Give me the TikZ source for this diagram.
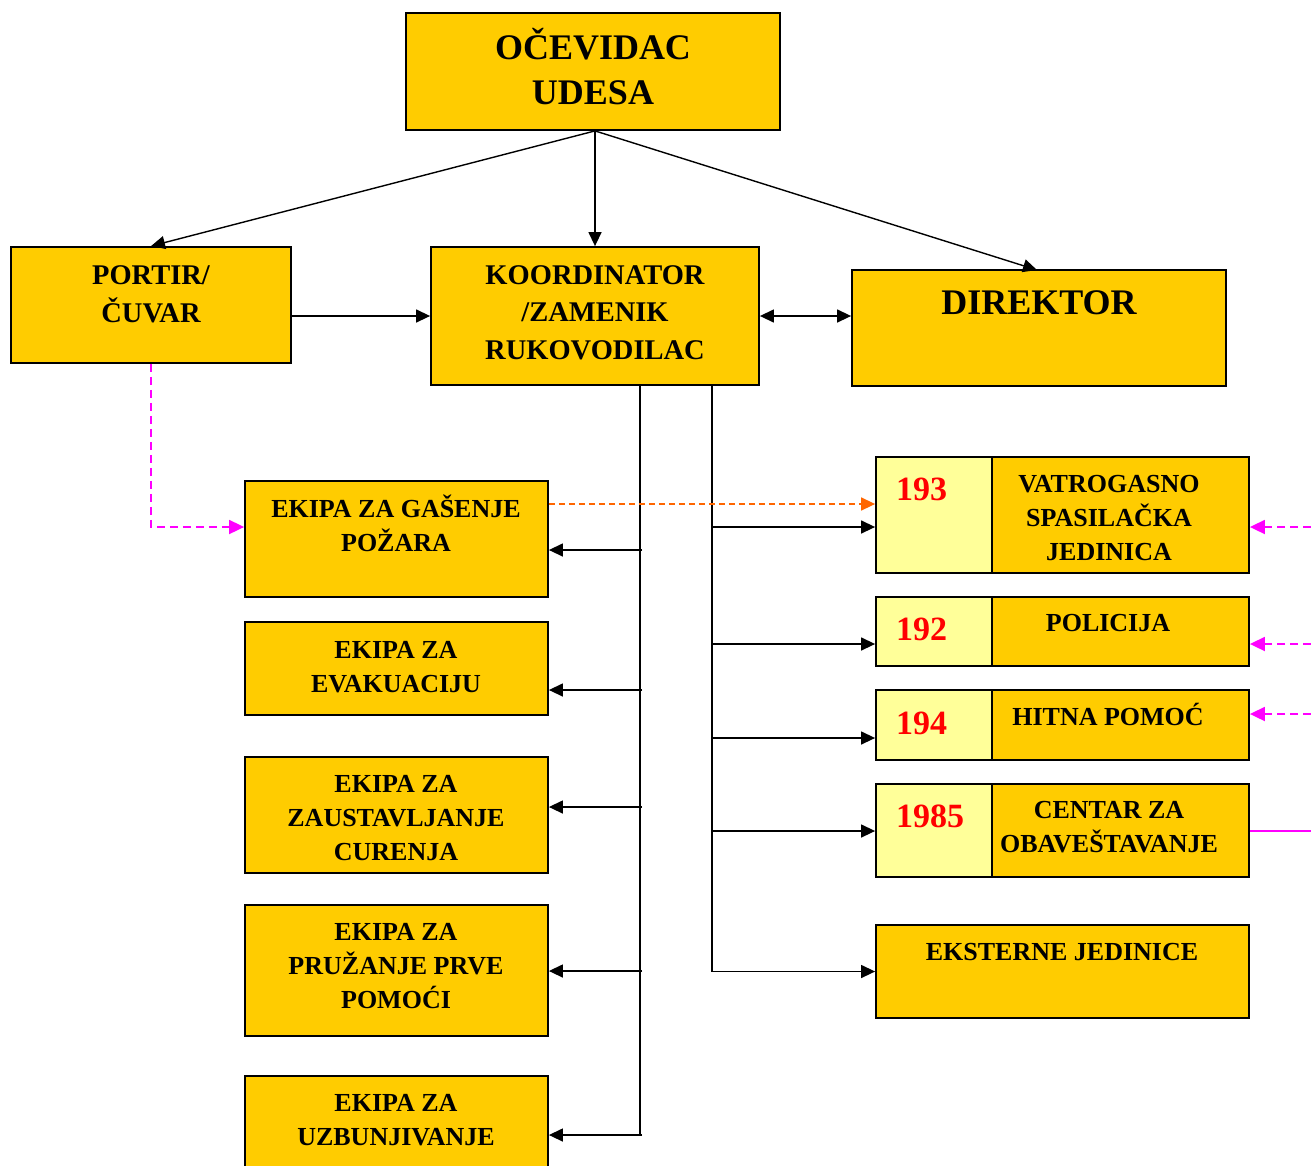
\documentclass[tikz,border=0pt]{standalone}
\usepackage{fontspec}
\setmainfont{Liberation Serif}
\usetikzlibrary{arrows.meta,fit}

\definecolor{boxgold}{HTML}{FFCC00}
\definecolor{cellpale}{HTML}{FFFF99}
\definecolor{linemag}{HTML}{FF00FF}
\definecolor{lineorange}{HTML}{FF6600}
\definecolor{numred}{HTML}{FF0000}

\begin{document}
\begin{tikzpicture}[x=1pt,y=-1pt,
  box/.style={draw=black, line width=1.8pt, fill=boxgold, inner sep=0pt},
  cell/.style={box, fill=cellpale},
  % multi-line labels: the base anchor sits on the last line's baseline
  lbl/.style={font=\bfseries\fontsize{26}{34}\selectfont, align=center, inner sep=0pt, anchor=base},
  lbltop/.style={lbl, font=\bfseries\fontsize{28.5}{37.5}\selectfont},
  lblbig/.style={lbl, font=\bfseries\fontsize{36}{45}\selectfont},
  num/.style={font=\bfseries\fontsize{34}{40}\selectfont, text=numred, inner sep=0pt, anchor=base west},
  wire/.style={draw=black, line width=1.4pt},
  conn/.style={wire, -{Triangle[length=14pt,width=13pt]}},
  conn2/.style={wire, {Triangle[length=14pt,width=13pt]}-{Triangle[length=14pt,width=13pt]}},
  magdash/.style={draw=linemag, line width=1.8pt, dash pattern=on 8pt off 5pt,
    -{Triangle[length=15pt,width=14pt]}},
  magsolid/.style={draw=linemag, line width=1.6pt},
  orgdash/.style={draw=lineorange, line width=1.5pt, dash pattern=on 6pt off 4pt,
    -{Triangle[length=14pt,width=13pt]}}
]
\useasboundingbox (0,0) rectangle (1311,1165);

% ---- top level
\node[box, fit={(406,13)(780,130)}] (eye) {};
\node[lblbig] (eyeT) at (593,104) {OČEVIDAC\\UDESA};

\node[box, fit={(11,247)(291,363)}] (portir) {};
\node[lbltop] (portirT) at (151,322) {PORTIR/\\ČUVAR};

\node[box, fit={(431,247)(759,385)}] (koord) {};
\node[lbltop] (koordT) at (595,359) {KOORDINATOR\\/ZAMENIK\\RUKOVODILAC};

\node[box, fit={(852,270)(1226,386)}] (dir) {};
\node[lblbig] (dirT) at (1039,314) {DIREKTOR};

% ---- internal teams
\node[box, fit={(245,481)(548,597)}] (gas) {};
\node[lbl] (gasT) at (396,551) {EKIPA ZA GAŠENJE\\POŽARA};

\node[box, fit={(245,622)(548,715)}] (evak) {};
\node[lbl] (evakT) at (396,692) {EKIPA ZA\\EVAKUACIJU};

\node[box, fit={(245,757)(548,873)}] (curenje) {};
\node[lbl] (curenjeT) at (396,860) {EKIPA ZA\\ZAUSTAVLJANJE\\CURENJA};

\node[box, fit={(245,905)(548,1036)}] (prva) {};
\node[lbl] (prvaT) at (396,1008) {EKIPA ZA\\PRUŽANJE PRVE\\POMOĆI};

\node[box, fit={(245,1076)(548,1180)}] (uzb) {};
\node[lbl] (uzbT) at (396,1145) {EKIPA ZA\\UZBUNJIVANJE};

% ---- external services
\node[cell, fit={(876,457)(992,573)}] (n193) {};
\node[box, fit={(992,457)(1249,573)}] (vat) {};
\node[num] (n193T) at (896,500) {193};
\node[lbl] (vatT) at (1109,560) {VATROGASNO\\SPASILAČKA\\JEDINICA};

\node[cell, fit={(876,597)(992,666)}] (n192) {};
\node[box, fit={(992,597)(1249,666)}] (pol) {};
\node[num] (n192T) at (896,640) {192};
\node[lbl] (polT) at (1108,631) {POLICIJA};

\node[cell, fit={(876,690)(992,760)}] (n194) {};
\node[box, fit={(992,690)(1249,760)}] (hit) {};
\node[num] (n194T) at (896,734) {194};
\node[lbl] (hitT) at (1108,725) {HITNA POMOĆ};

\node[cell, fit={(876,784)(992,877)}] (n1985) {};
\node[box, fit={(992,784)(1249,877)}] (cen) {};
\node[num] (n1985T) at (896,827) {1985};
\node[lbl] (cenT) at (1109,852) {CENTAR ZA\\OBAVEŠTAVANJE};

\node[box, fit={(876,925)(1249,1018)}] (ext) {};
\node[lbl] (extT) at (1062,960) {EKSTERNE JEDINICE};

% ---- reporting lines from the witness
\coordinate (fan) at (eye.south -| koord.north);
\draw[conn] (fan) -- (portir.north);
\draw[conn] (fan) -- (koord.north);
\draw[conn] (fan) -- (1037,270);
\draw[conn] (portir.east |- koord.west) -- (koord.west);
\draw[conn2] (koord.east) -- (dir.west |- koord.east);

% ---- left bus to the teams
\coordinate (busL) at (640,385);
\coordinate (busLend) at (640,1135);
\draw[wire] (busL) -- (busLend);
\foreach \yy/\tgt in {550/gas, 690/evak, 807/curenje, 971/prva, 1135/uzb}{
  \coordinate (tapL) at (642,\yy);
  \draw[conn] (tapL) -- (tapL -| \tgt.east);
}

% ---- right bus to external services
\coordinate (busR) at (712,385);
\draw[conn] (busR) |- (ext.west);
\foreach \yy/\tgt in {527/n193, 644/n192, 738/n194, 831/n1985}{
  \coordinate (tapR) at (712,\yy);
  \draw[conn] (tapR) -- (tapR -| \tgt.west);
}

% ---- alarm lines
\coordinate (portDown) at (151,527);
\draw[magdash] (portir.south -| portDown) -- (portDown) -- (gas.west |- portDown);
\draw[orgdash] (gas.east |- 0,504) -- (n193.west |- 0,504);

\coordinate (inV) at (1311,527);
\coordinate (inP) at (1311,644);
\coordinate (inH) at (1311,714);
\coordinate (inC) at (1311,831);
\draw[magdash] (inV) -- (vat.east |- inV);
\draw[magdash] (inP) -- (pol.east |- inP);
\draw[magdash] (inH) -- (hit.east |- inH);
\draw[magsolid] (cen.east |- inC) -- (inC);

\end{tikzpicture}
\end{document}
